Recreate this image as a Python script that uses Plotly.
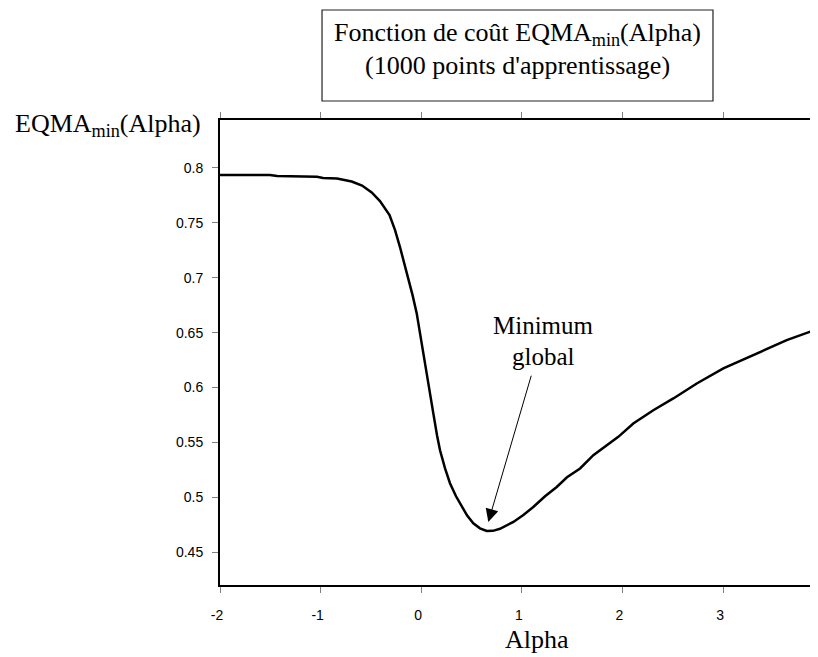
import plotly.graph_objects as go

# ---- data ----
alpha = [-2.0, -1.503, -1.433, -1.036, -0.976, -0.837, -0.691, -0.588, -0.492, -0.410,
         -0.315, -0.260, -0.211, -0.171, -0.128, -0.086, -0.045, -0.002, 0.038, 0.078,
         0.120, 0.157, 0.187, 0.237, 0.286, 0.346, 0.403, 0.455, 0.518, 0.584,
         0.651, 0.714, 0.783, 0.843, 0.916, 1.012, 1.114, 1.231, 1.347, 1.449,
         1.579, 1.711, 1.827, 1.959, 2.108, 2.307, 2.506, 2.739, 3.003, 3.301,
         3.633, 3.931, 4.0]
eqma = [0.7936, 0.7936, 0.7927, 0.7921, 0.7909, 0.7904, 0.7877, 0.7840, 0.7777, 0.7699,
        0.7572, 0.7434, 0.7280, 0.7143, 0.6997, 0.6842, 0.6678, 0.6450, 0.6232, 0.5995,
        0.5767, 0.5566, 0.5429, 0.5265, 0.5129, 0.5010, 0.4912, 0.4837, 0.4764, 0.4718,
        0.4694, 0.4695, 0.4714, 0.4741, 0.4776, 0.4837, 0.4912, 0.5010, 0.5095, 0.5183,
        0.5263, 0.5384, 0.5466, 0.5551, 0.5673, 0.5794, 0.5901, 0.6037, 0.6174, 0.6295,
        0.6432, 0.6530, 0.6555]

x_ticks = [-2, -1, 0, 1, 2, 3, 4]
y_ticks = [0.45, 0.5, 0.55, 0.6, 0.65, 0.7, 0.75, 0.8]
y_tick_labels = ["0.45", "0.5", "0.55", "0.6", "0.65", "0.7", "0.75", "0.8"]

title_line1 = "Fonction de coût EQMA<sub>min</sub>(Alpha)"
title_line2 = "(1000 points d'apprentissage)"
y_title = "EQMA<sub>min</sub>(Alpha)"
x_title = "Alpha"
note_lines = ["Minimum", "global"]
arrow_tip = (0.667, 0.4776)
arrow_tail = (1.098, 0.6122)
note_x = 1.211
note_y = [0.657, 0.628]

X_RANGE = [-2, 3.944]
Y_RANGE = [0.4202, 0.8437]

serif = "Liberation Serif, Times New Roman, serif"
sans = "Liberation Sans, Arial, sans-serif"

fig = go.Figure()
fig.add_trace(go.Scatter(x=alpha, y=eqma, mode="lines",
                         line=dict(color="black", width=2.5),
                         showlegend=False, hoverinfo="skip"))

# the page body adds an 8px margin, so the figure is sized to end at the window edge
fig.update_layout(
    width=810, height=649,
    margin=dict(l=212, r=0, t=112, b=72),
    paper_bgcolor="white", plot_bgcolor="white",
    showlegend=False,
)
fig.update_xaxes(
    range=X_RANGE, tickvals=x_ticks, ticktext=[str(v) for v in x_ticks],
    showgrid=False, zeroline=False,
    showline=True, linecolor="black", linewidth=1.5,
    mirror="allticks", ticks="outside", ticklen=6, tickcolor="#808080", tickwidth=1,
    tickfont=dict(family=sans, size=14, color="black"),
    ticklabelstandoff=10, ticklabelshift=-3,
)
fig.update_yaxes(
    range=Y_RANGE, tickvals=y_ticks, ticktext=y_tick_labels,
    showgrid=False, zeroline=False,
    showline=True, linecolor="black", linewidth=2,
    ticks="outside", ticklen=6, tickcolor="#808080", tickwidth=1,
    tickfont=dict(family=sans, size=14, color="black"),
    ticklabelstandoff=6,
)

# "4" tick label that sits beyond the cropped right edge
fig.add_annotation(xref="paper", yref="paper",
                   x=(4 - X_RANGE[0]) / (X_RANGE[1] - X_RANGE[0]), y=-0.0602,
                   text="4", showarrow=False, xshift=-7,
                   font=dict(family=sans, size=14, color="black"),
                   xanchor="center", yanchor="middle")

# title box
fig.add_shape(type="rect", xref="paper", yref="paper",
              x0=0.1706, x1=0.8244, y0=1.0409, y1=1.2366,
              line=dict(color="#222222", width=1.2), fillcolor="rgba(0,0,0,0)")
fig.add_annotation(xref="paper", yref="paper", x=0.4975, y=1.186,
                   text=title_line1, showarrow=False,
                   font=dict(family=serif, size=26, color="black"),
                   xanchor="center", yanchor="middle")
fig.add_annotation(xref="paper", yref="paper", x=0.4975, y=1.117,
                   text=title_line2, showarrow=False,
                   font=dict(family=serif, size=26, color="black"),
                   xanchor="center", yanchor="middle")

# y-axis title
fig.add_annotation(xref="paper", yref="paper", x=-0.346, y=0.99,
                   text=y_title, showarrow=False,
                   font=dict(family=serif, size=26, color="black"),
                   xanchor="left", yanchor="middle")
# x-axis title
fig.add_annotation(xref="paper", yref="paper", x=0.530, y=-0.118,
                   text=x_title, showarrow=False,
                   font=dict(family=serif, size=26, color="black"),
                   xanchor="center", yanchor="middle")

# note + arrow
for line, yy in zip(note_lines, note_y):
    fig.add_annotation(x=note_x, y=yy, xref="x", yref="y", text=line,
                       showarrow=False, font=dict(family=serif, size=25, color="black"),
                       xanchor="center", yanchor="middle")
fig.add_annotation(x=arrow_tip[0], y=arrow_tip[1], ax=arrow_tail[0], ay=arrow_tail[1],
                   xref="x", yref="y", axref="x", ayref="y", text="",
                   showarrow=True, arrowhead=2, arrowsize=2.6, arrowwidth=1,
                   arrowcolor="black", standoff=0)

fig.write_html("out.html")
